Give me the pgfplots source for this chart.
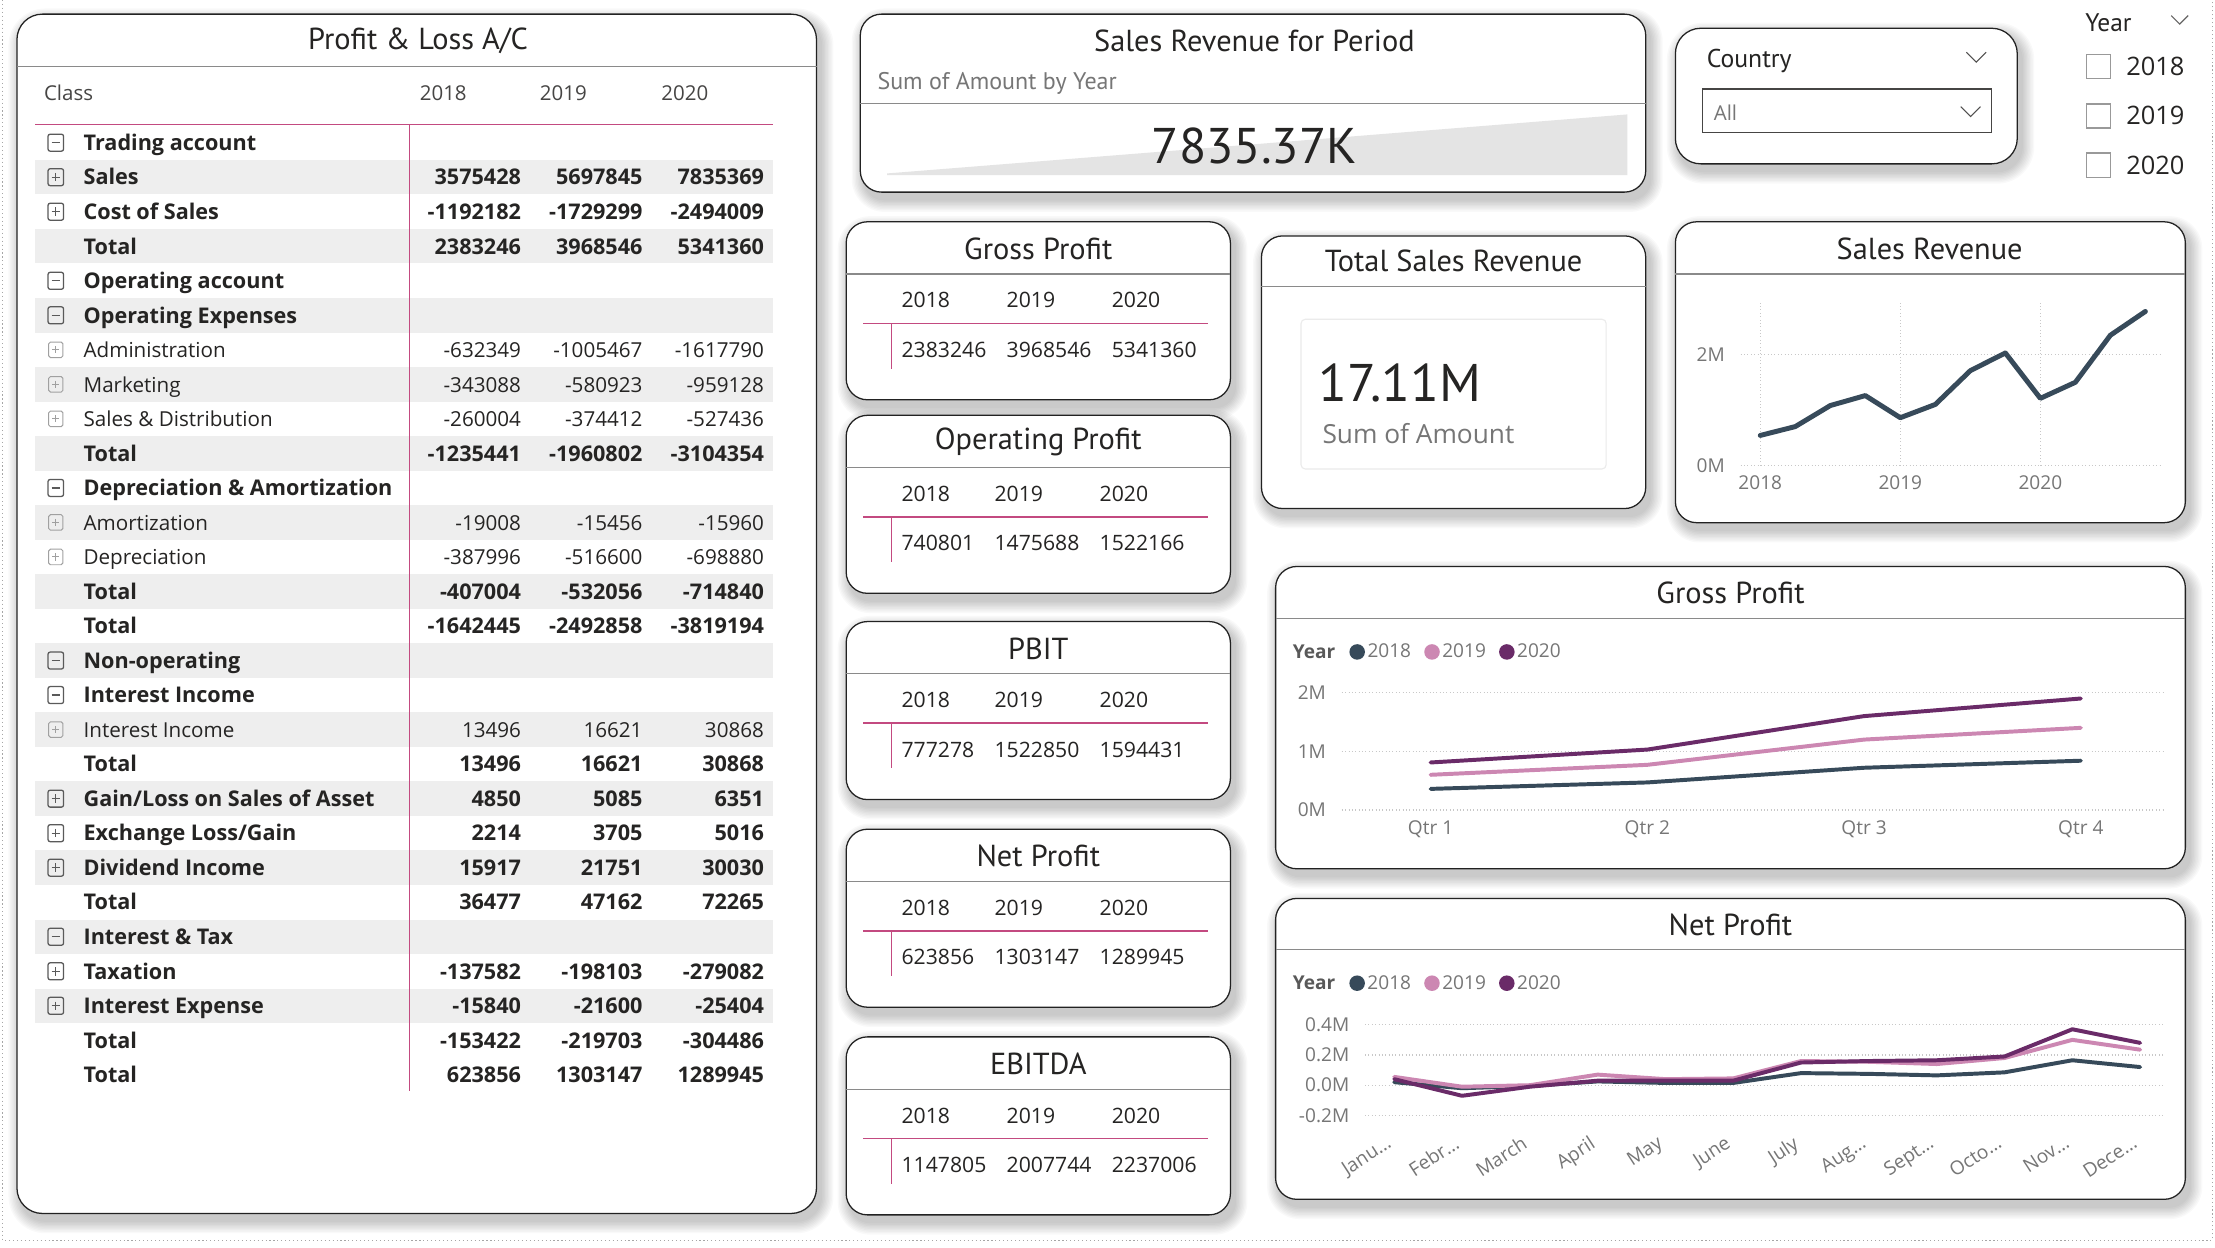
\documentclass[border=0pt]{standalone}
\usepackage{pgfplots}
\pgfplotsset{compat=1.18}
\usepackage{fontspec}
\setmainfont{Open Sans}
\newfontfamily\din{PT Sans}

\definecolor{c18}{HTML}{374A5A}
\definecolor{c19}{HTML}{CC87B2}
\definecolor{c20}{HTML}{6A2B68}
\definecolor{pinkc}{HTML}{C34A80}
\definecolor{rowgray}{HTML}{EEEEEE}
\definecolor{tdark}{HTML}{252423}
\definecolor{lgray}{HTML}{767676}
\definecolor{gridc}{HTML}{C8C8C8}
\definecolor{sepc}{HTML}{8A8A8A}
\definecolor{cardc}{HTML}{222222}
\definecolor{areagray}{HTML}{E4E4E4}
\definecolor{iconc}{HTML}{5A5A5A}
\definecolor{iconl}{HTML}{A0A0A0}

\newcommand{\fs}[1]{\fontsize{#1bp}{#1bp}\selectfont}
\newcommand{\tb}{\bfseries\fs{15.3}}
\newcommand{\tn}{\fs{14.6}}

% rounded card with a soft shadow
\newcommand{\card}[5]{%
  \foreach \i in {0,...,8}{%
    \pgfmathsetmacro\rr{#5+\i}%
    \fill[black,opacity=0.022,rounded corners=\rr bp] ({#1+2-\i},{#2+4-\i}) rectangle ({#3+4+\i},{#4+6+\i});
  }%
  \draw[fill=white,draw=cardc,line width=0.9bp,rounded corners=#5bp] (#1,#2) rectangle (#3,#4);
}

% expand / collapse icons of the matrix
\newcommand{\picon}[2]{%
  \if#1m
    \draw[iconc,line width=0.9bp,rounded corners=1.5bp] (34,#2-6) rectangle (45,#2+6);
    \draw[iconc,line width=0.9bp] (36.5,#2) -- (42.5,#2);
  \fi
  \if#1p
    \draw[iconc,line width=0.9bp,rounded corners=1.5bp] (34,#2-6) rectangle (45,#2+6);
    \draw[iconc,line width=0.9bp] (36.5,#2) -- (42.5,#2) (39.5,#2-3) -- (39.5,#2+3);
  \fi
  \if#1q
    \draw[iconl,line width=0.7bp,rounded corners=1.2bp] (34.5,#2-5.5) rectangle (44.5,#2+5.5);
    \draw[iconl,line width=0.7bp] (37,#2) -- (42,#2) (39.5,#2-2.5) -- (39.5,#2+2.5);
  \fi
}

% a value cell, skipped when empty
\newcommand{\pval}[4]{%
  \if\relax\detokenize{#4}\relax\else
    \node[anchor=base east,inner sep=0pt,font=#3,text=tdark] at (#1,#2) {#4};
  \fi
}

% one row of the profit and loss matrix
\newcommand{\prow}[8]{%
  \pgfmathsetmacro\yy{101+(#1-1)*24.44}%
  \ifnum#2=1 \fill[rowgray] (25,\yy-12.2) rectangle (547,\yy+12.2);\fi
  \picon{#3}{\yy}%
  \node[anchor=base west,inner sep=0pt,font=#4,text=tdark] at (59,\yy+5.5) {#5};
  \pval{369}{\yy+5.5}{#4}{#6}%
  \pval{455}{\yy+5.5}{#4}{#7}%
  \pval{541}{\yy+5.5}{#4}{#8}%
}

% small card with one value per year
\newcommand{\kpicard}[5]{%
  \card{599}{#1}{871}{#1+126}{15}
  \node[font=\din\fs{21.5},text=tdark] at (735,#1+19) {#2};
  \draw[sepc,line width=0.8bp] (599,#1+37) -- (871,#1+37);
  \draw[pinkc,line width=1.1bp] (611,#1+72) -- (855,#1+72);
  \draw[pinkc,line width=1.1bp] (631,#1+72) -- (631,#1+104);
  \node[anchor=base west,inner sep=0pt,font=\fs{15},text=tdark] (va) at (638,#1+96) {#3};
  \node[anchor=base west,inner sep=0pt,font=\fs{15},text=tdark] (vb) at ([xshift=14bp]va.base east) {#4};
  \node[anchor=base west,inner sep=0pt,font=\fs{15},text=tdark] (vc) at ([xshift=14bp]vb.base east) {#5};
  \foreach \n/\yr in {va/2018,vb/2019,vc/2020}
    \node[anchor=base west,inner sep=0pt,font=\fs{15},text=tdark] at ([yshift=35bp]\n.base west) {\yr};
}

\begin{document}
\begin{tikzpicture}[x=1bp,y=1bp]
\useasboundingbox (0,0) rectangle (1568,-883);
\fill[white] (0,0) rectangle (1568,-883);

\begin{scope}[y=-1bp]
  % page frame
  \draw[gray!70,dotted,line width=0.8bp] (2,0) -- (2,878) -- (1566,878) -- (1566,0);

  % ---------- Profit & Loss matrix ----------
  \card{12}{10}{578}{859}{18}
  \node[font=\din\fs{21.5},text=tdark] at (296,29) {Profit \& Loss A/C};
  \draw[sepc,line width=0.8bp] (12,47) -- (578,47);
  \node[anchor=base west,inner sep=0pt,font=\fs{14.5},text=tdark!85] at (31,71) {Class};
  \node[anchor=base west,inner sep=0pt,font=\fs{14.5},text=tdark!85] at (297,71) {2018};
  \node[anchor=base west,inner sep=0pt,font=\fs{14.5},text=tdark!85] at (382,71) {2019};
  \node[anchor=base west,inner sep=0pt,font=\fs{14.5},text=tdark!85] at (468,71) {2020};

  \prow{1}{0}{m}{\tb}{Trading account}{}{}{}
  \prow{2}{1}{p}{\tb}{Sales}{3575428}{5697845}{7835369}
  \prow{3}{0}{p}{\tb}{Cost of Sales}{-1192182}{-1729299}{-2494009}
  \prow{4}{1}{n}{\tb}{Total}{2383246}{3968546}{5341360}
  \prow{5}{0}{m}{\tb}{Operating account}{}{}{}
  \prow{6}{1}{m}{\tb}{Operating Expenses}{}{}{}
  \prow{7}{0}{q}{\tn}{Administration}{-632349}{-1005467}{-1617790}
  \prow{8}{1}{q}{\tn}{Marketing}{-343088}{-580923}{-959128}
  \prow{9}{0}{q}{\tn}{Sales \& Distribution}{-260004}{-374412}{-527436}
  \prow{10}{1}{n}{\tb}{Total}{-1235441}{-1960802}{-3104354}
  \prow{11}{0}{m}{\tb}{Depreciation \& Amortization}{}{}{}
  \prow{12}{1}{q}{\tn}{Amortization}{-19008}{-15456}{-15960}
  \prow{13}{0}{q}{\tn}{Depreciation}{-387996}{-516600}{-698880}
  \prow{14}{1}{n}{\tb}{Total}{-407004}{-532056}{-714840}
  \prow{15}{0}{n}{\tb}{Total}{-1642445}{-2492858}{-3819194}
  \prow{16}{1}{m}{\tb}{Non-operating}{}{}{}
  \prow{17}{0}{m}{\tb}{Interest Income}{}{}{}
  \prow{18}{1}{q}{\tn}{Interest Income}{13496}{16621}{30868}
  \prow{19}{0}{n}{\tb}{Total}{13496}{16621}{30868}
  \prow{20}{1}{p}{\tb}{Gain/Loss on Sales of Asset}{4850}{5085}{6351}
  \prow{21}{0}{p}{\tb}{Exchange Loss/Gain}{2214}{3705}{5016}
  \prow{22}{1}{p}{\tb}{Dividend Income}{15917}{21751}{30030}
  \prow{23}{0}{n}{\tb}{Total}{36477}{47162}{72265}
  \prow{24}{1}{m}{\tb}{Interest \& Tax}{}{}{}
  \prow{25}{0}{p}{\tb}{Taxation}{-137582}{-198103}{-279082}
  \prow{26}{1}{p}{\tb}{Interest Expense}{-15840}{-21600}{-25404}
  \prow{27}{0}{n}{\tb}{Total}{-153422}{-219703}{-304486}
  \prow{28}{0}{n}{\tb}{Total}{623856}{1303147}{1289945}

  \draw[pinkc,line width=1.1bp] (25,88) -- (547,88);
  \draw[pinkc,line width=1.1bp] (290,88) -- (290,772);

  % ---------- Sales Revenue for Period ----------
  \card{609}{10}{1165}{136}{15}
  \node[font=\din\fs{21.5},text=tdark] at (888,29) {Sales Revenue for Period};
  \node[anchor=west,inner sep=0pt,font=\din\fs{17},text=lgray] at (621,59) {Sum of Amount by Year};
  \draw[sepc,line width=0.8bp] (609,73) -- (1165,73);

  % ---------- Country slicer ----------
  \card{1186}{20}{1428}{116}{18}
  \node[anchor=west,inner sep=0pt,font=\din\fs{18.2},text=tdark] at (1208,43) {Country};
  \draw[tdark!80,line width=0.8bp] (1392,37) -- (1399,44) -- (1406,37);
  \draw[tdark!85,line width=0.9bp] (1205,63) rectangle (1410,94);
  \node[anchor=west,inner sep=0pt,font=\fs{14.5},text=lgray] at (1213,80) {All};
  \draw[tdark!80,line width=0.8bp] (1388,75.5) -- (1395,82.5) -- (1402,75.5);

  % ---------- Year slicer ----------
  \node[anchor=west,inner sep=0pt,font=\din\fs{18},text=tdark] at (1476,16) {Year};
  \draw[tdark!70,line width=0.8bp] (1537,11) -- (1543,17) -- (1549,11);
  \foreach \yy/\yr in {47/2018,82/2019,117/2020}{
    \draw[gray!80,line width=1.1bp] (1477,\yy-8.5) rectangle (1494,\yy+8.5);
    \node[anchor=west,inner sep=0pt,font=\fs{18},text=tdark] at (1505,\yy) {\yr};
  }

  % ---------- yearly value cards ----------
  \kpicard{157}{Gross Profit}{2383246}{3968546}{5341360}
  \kpicard{294}{Operating Profit}{740801}{1475688}{1522166}
  \kpicard{440}{PBIT}{777278}{1522850}{1594431}
  \kpicard{587}{Net Profit}{623856}{1303147}{1289945}
  \kpicard{734}{EBITDA}{1147805}{2007744}{2237006}

  % ---------- Total Sales Revenue ----------
  \card{893}{167}{1165}{360}{15}
  \node[font=\din\fs{21.5},text=tdark] at (1029,185) {Total Sales Revenue};
  \draw[sepc,line width=0.8bp] (893,203) -- (1165,203);
  \draw[fill=white,draw=black!8,line width=0.8bp,rounded corners=3bp] (921,226) rectangle (1137,332);
  \node[anchor=base west,inner sep=0pt,font=\din\fs{37.5},text=tdark] at (933,284) {17.11M};
  \node[anchor=base west,inner sep=0pt,font=\fs{18.6},text=lgray] at (936,314) {Sum of Amount};

  % ---------- Sales Revenue line card ----------
  \card{1186}{157}{1547}{370}{15}
  \node[font=\din\fs{21.5},text=tdark] at (1366,176) {Sales Revenue};
  \draw[sepc,line width=0.8bp] (1186,194) -- (1547,194);

  % ---------- Gross Profit chart card ----------
  \card{903}{401}{1547}{615}{15}
  \node[font=\din\fs{21.5},text=tdark] at (1225,420) {Gross Profit};
  \draw[sepc,line width=0.8bp] (903,438) -- (1547,438);
  \node[anchor=west,inner sep=0pt,font=\bfseries\fs{13.5},text=black!65] at (915,461.5) {Year};

  % ---------- Net Profit chart card ----------
  \card{903}{636}{1547}{849}{15}
  \node[font=\din\fs{21.5},text=tdark] at (1225,655) {Net Profit};
  \draw[sepc,line width=0.8bp] (903,672) -- (1547,672);
  \node[anchor=west,inner sep=0pt,font=\bfseries\fs{13.5},text=black!65] at (915,696) {Year};
\end{scope}

\pgfplotsset{
  dash/.style={
    scale only axis, anchor=south west,
    axis line style={draw=none}, major tick length=0pt,
    tick label style={font=\fs{13.5}, text=lgray},
    yticklabel style={inner sep=0pt, xshift=-11bp},
    xticklabel style={inner sep=0pt, yshift=-7bp},
    major grid style={gridc, dotted, line width=0.9bp},
    clip=false,
    /pgf/number format/assume math mode=true,
    every axis plot/.append style={line join=round, line cap=round},
    legend image code/.code={\fill[##1,draw=none] (0bp,0bp) circle (5.5bp);},
  },
  yearlegend/.style={
    legend columns=-1,
    legend style={draw=none, fill=none, anchor=west, inner sep=0pt,
      font=\fs{13.5}, text=lgray,
      nodes={inner sep=1.8bp},
      /tikz/every even column/.append style={column sep=7.5bp}},
  },
}

% sales trend behind the period total
\begin{axis}[at={(628bp,-124bp)}, anchor=south west, scale only axis,
  width=524bp, height=43bp, xmin=2018, xmax=2020, ymin=3.45, ymax=7.835369,
  axis lines=none, ticks=none]
  \addplot[fill=areagray, draw=none] coordinates
    {(2018,3.575428) (2019,5.697845) (2020,7.835369)} \closedcycle;
\end{axis}

% Sales Revenue by quarter (millions)
\begin{axis}[dash, at={(1232.2bp,-329.4bp)}, width=297.4bp, height=115.6bp,
  xmin=2017.86, xmax=2020.86, ymin=0, ymax=2.95,
  xtick={2018,2019,2020}, xticklabels={2018,2019,2020},
  ytick={0,2}, yticklabels={0M,2M}, grid=major]
  \addplot[c18, line width=3.5bp] coordinates {
    (2018.00,0.54) (2018.25,0.70) (2018.50,1.08) (2018.75,1.26)
    (2019.00,0.86) (2019.25,1.10) (2019.50,1.71) (2019.75,2.03)
    (2020.00,1.21) (2020.25,1.50) (2020.50,2.35) (2020.75,2.78)};
\end{axis}

% Gross Profit by quarter (millions)
\begin{axis}[dash, yearlegend, at={(949.8bp,-573.4bp)}, width=581.5bp, height=83.1bp,
  xmin=0.59, xmax=4.38, ymin=0, ymax=2,
  xtick={1,2,3,4}, xticklabels={Qtr 1,Qtr 2,Qtr 3,Qtr 4},
  ytick={0,1,2}, yticklabels={0M,1M,2M}, ymajorgrids,
  legend style={at={(0.009,1.3466)}}]
  \addplot[c18, line width=2.8bp] coordinates {(1,0.36) (2,0.47) (3,0.72) (4,0.84)};
  \addplot[c19, line width=2.8bp] coordinates {(1,0.60) (2,0.77) (3,1.20) (4,1.40)};
  \addplot[c20, line width=2.8bp] coordinates {(1,0.81) (2,1.03) (3,1.60) (4,1.90)};
  \legend{2018,2019,2020}
\end{axis}

% Net Profit by month (millions)
\begin{axis}[dash, yearlegend, at={(966.3bp,-789.6bp)}, width=565bp, height=64.2bp,
  xmin=0.57, xmax=12.34, ymin=-0.2, ymax=0.4,
  xtick={1,...,12},
  xticklabels={Janu…,Febr…,March,April,May,June,July,Aug…,Sept…,Octo…,Nov…,Dece…},
  xticklabel style={rotate=33, anchor=north east, yshift=-2bp, xshift=-9bp},
  ytick={-0.2,0,0.2,0.4}, yticklabels={-0.2M,0.0M,0.2M,0.4M}, ymajorgrids,
  legend style={at={(-0.02,1.458)}}]
  \addplot[c18, line width=2.8bp] coordinates {(1,0.02) (2,-0.02) (3,-0.005) (4,0.025) (5,0.015) (6,0.015) (7,0.08) (8,0.075) (9,0.065) (10,0.085) (11,0.165) (12,0.12)};
  \addplot[c19, line width=2.8bp] coordinates {(1,0.055) (2,-0.01) (3,0.0) (4,0.07) (5,0.04) (6,0.045) (7,0.16) (8,0.155) (9,0.14) (10,0.18) (11,0.30) (12,0.235)};
  \addplot[c20, line width=2.8bp] coordinates {(1,0.04) (2,-0.07) (3,-0.01) (4,0.03) (5,0.03) (6,0.03) (7,0.15) (8,0.16) (9,0.165) (10,0.19) (11,0.37) (12,0.28)};
  \legend{2018,2019,2020}
\end{axis}

\begin{scope}[y=-1bp]
  \node[font=\din\fs{35.5},text=tdark] at (888,103) {7835.37K};
\end{scope}
\end{tikzpicture}
\end{document}
